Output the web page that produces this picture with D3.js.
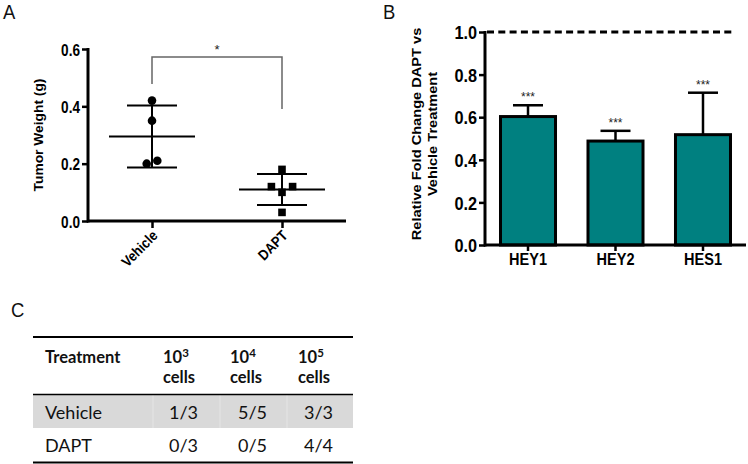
<!DOCTYPE html>
<html>
<head>
<meta charset="utf-8">
<script src="https://cdn.jsdelivr.net/npm/d3@7"></script>
<style>
  html, body { margin: 0; padding: 0; background: #fff; }
  svg { display: block; }
  .ax { font-family: "Liberation Sans", Arial, sans-serif; font-weight: bold; }
  .tbl { font-family: Lato, "Open Sans", sans-serif; }
</style>
</head>
<body>
<svg id="chart" width="748" height="464"></svg>
<script>
// ---------------- Data ----------------
// Panel A: tumor weights (g)
const groupsA = ["Vehicle", "DAPT"];
const vehicleWeights = [0.42, 0.35, 0.20, 0.21];
const vehicleJitter  = [0, 0, -1, 1];
const daptWeights    = [0.18, 0.12, 0.12, 0.10, 0.03];
const daptJitter     = [0, -2, 2, 0, 0];
const meansA = [0.295, 0.110];
const sdsA   = [0.108, 0.054];
const ticksA = [0.0, 0.2, 0.4, 0.6];
const sigLabelA = "*";

// Panel B: relative fold change
const genesB = ["HEY1", "HEY2", "HES1"];
const foldB  = [0.603, 0.488, 0.518];
const errB   = [0.053, 0.048, 0.197];
const sigB   = ["***", "***", "***"];
const ticksB = [0.0, 0.2, 0.4, 0.6, 0.8, 1.0];
const refLineB = 1.0;

// Panel C: table
const tableHeader = ["Treatment", "10|3|cells", "10|4|cells", "10|5|cells"];
const tableRows = [
  ["Vehicle", "1/3", "5/5", "3/3"],
  ["DAPT",    "0/3", "0/5", "4/4"]
];

// ---------------- Drawing ----------------
const svg = d3.select("#chart");
const fmt = d3.format(".1f");

function panelLetter(t, x, y) {
  svg.append("text").attr("x", x).attr("y", y)
    .attr("font-family", "Liberation Sans, Arial, sans-serif")
    .attr("font-size", 20.5).attr("fill", "#111")
    .attr("transform", `translate(${x},0) scale(0.9,1) translate(${-x},0)`)
    .text(t);
}

// ===== Panel A =====
(function () {
  const sq = 0.8;
  const y = d3.scaleLinear().domain([0, 0.6]).range([221, 49]);
  const x = d3.scalePoint().domain(groupsA).range([152, 282]);
  const g = svg.append("g");

  // y axis
  const yAxis = d3.axisLeft(y).tickValues(ticksA).tickFormat(fmt).tickSizeOuter(0).tickSize(6);
  const ya = g.append("g").attr("transform", "translate(88,0)").call(yAxis);
  ya.select(".domain").attr("stroke", "#000").attr("stroke-width", 3)
    .attr("d", `M0,${y(0) + 1.5}V${y(0.6) - 1}`);
  ya.selectAll(".tick line").attr("stroke", "#000").attr("stroke-width", 2.5);
  ya.selectAll(".tick text")
    .attr("class", "ax").attr("font-size", 17).attr("fill", "#000")
    .attr("x", -8 / sq).attr("dy", "0.36em")
    .attr("transform", `scale(${sq},1)`);

  // x axis
  const xa = g.append("g").attr("transform", "translate(0,221)")
    .call(d3.axisBottom(x).tickSize(7).tickSizeOuter(0).tickFormat(""));
  xa.select(".domain").attr("stroke", "#000").attr("stroke-width", 3).attr("d", "M87,0H346");
  xa.selectAll(".tick line").attr("stroke", "#000").attr("stroke-width", 2.5);
  groupsA.forEach(gn => {
    g.append("text").attr("class", "ax").attr("font-size", 14.5)
      .attr("text-anchor", "end").attr("dy", "0.35em")
      .attr("transform", `translate(${x(gn) + 3},${233}) rotate(-45) scale(0.88,1)`)
      .text(gn);
  });

  // axis title
  g.append("text").attr("class", "ax").attr("font-size", 13.8)
    .attr("text-anchor", "middle")
    .attr("transform", `translate(43,135) rotate(-90) scale(1,0.88)`)
    .text("Tumor Weight (g)");

  // error bars (mean ± SD)
  groupsA.forEach((gn, i) => {
    const cx = x(gn), m = meansA[i], s = sdsA[i];
    g.append("line").attr("x1", cx).attr("x2", cx).attr("y1", y(m - s)).attr("y2", y(m + s))
      .attr("stroke", "#000").attr("stroke-width", 2);
    g.append("line").attr("x1", cx - 43).attr("x2", cx + 43).attr("y1", y(m)).attr("y2", y(m))
      .attr("stroke", "#000").attr("stroke-width", 2);
    [m - s, m + s].forEach(v => {
      g.append("line").attr("x1", cx - 25).attr("x2", cx + 25).attr("y1", y(v)).attr("y2", y(v))
        .attr("stroke", "#000").attr("stroke-width", 2);
    });
  });

  // points
  const jUnit = 5.3;
  g.selectAll("circle.pt").data(vehicleWeights).enter().append("circle")
    .attr("cx", (d, i) => x("Vehicle") + vehicleJitter[i] * jUnit)
    .attr("cy", d => y(d)).attr("r", 4.3).attr("fill", "#000");
  g.selectAll("rect.pt").data(daptWeights).enter().append("rect")
    .attr("x", (d, i) => x("DAPT") + daptJitter[i] * jUnit - 3.8)
    .attr("y", d => y(d) - 3.8).attr("width", 7.6).attr("height", 7.6).attr("fill", "#000");

  // significance bracket
  const topY = 57;
  g.append("path")
    .attr("d", `M${x("Vehicle")},84V${topY}H${x("DAPT")}V109`)
    .attr("fill", "none").attr("stroke", "#666").attr("stroke-width", 1.5);
  g.append("text").attr("x", (x("Vehicle") + x("DAPT")) / 2).attr("y", 54)
    .attr("text-anchor", "middle").attr("font-family", "Liberation Sans, Arial, sans-serif")
    .attr("font-size", 13).attr("fill", "#222").text(sigLabelA);
})();

// ===== Panel B =====
(function () {
  const sq = 0.88;
  const y = d3.scaleLinear().domain([0, 1]).range([245, 32]);
  const x = d3.scaleBand().domain(genesB).range([485, 746]).paddingInner(0.337).paddingOuter(0.16);
  const g = svg.append("g");

  // bars
  g.selectAll("rect.bar").data(foldB).enter().append("rect")
    .attr("x", (d, i) => x(genesB[i]) + 1.5)
    .attr("width", x.bandwidth() - 3)
    .attr("y", d => y(d))
    .attr("height", d => y(0) - y(d))
    .attr("fill", "#008080").attr("stroke", "#000").attr("stroke-width", 3);

  // error bars (upward)
  foldB.forEach((v, i) => {
    const cx = x(genesB[i]) + x.bandwidth() / 2;
    g.append("line").attr("x1", cx).attr("x2", cx).attr("y1", y(v)).attr("y2", y(v + errB[i]))
      .attr("stroke", "#000").attr("stroke-width", 2.5);
    g.append("line").attr("x1", cx - 15).attr("x2", cx + 15)
      .attr("y1", y(v + errB[i])).attr("y2", y(v + errB[i]))
      .attr("stroke", "#000").attr("stroke-width", 2.5);
    g.append("text").attr("x", cx).attr("y", y(v + errB[i]) - 4)
      .attr("text-anchor", "middle").attr("font-family", "Liberation Sans, Arial, sans-serif")
      .attr("font-size", 12).attr("fill", "#222").text(sigB[i]);
  });

  // y axis
  const ya = g.append("g").attr("transform", "translate(485,0)")
    .call(d3.axisLeft(y).tickValues(ticksB).tickFormat(fmt).tickSize(6).tickSizeOuter(0));
  ya.select(".domain").attr("stroke", "#000").attr("stroke-width", 3)
    .attr("d", `M0,${y(0) + 1.5}V${y(1) - 1}`);
  ya.selectAll(".tick line").attr("stroke", "#000").attr("stroke-width", 2.5);
  ya.selectAll(".tick text")
    .attr("class", "ax").attr("font-size", 18.5).attr("fill", "#000")
    .attr("x", -8 / sq).attr("dy", "0.36em")
    .attr("transform", `scale(${sq},1)`);

  // x axis
  const xa = g.append("g").attr("transform", `translate(0,${y(0)})`)
    .call(d3.axisBottom(x).tickSize(6).tickSizeOuter(0));
  xa.select(".domain").attr("stroke", "#000").attr("stroke-width", 3).attr("d", "M484,0H746");
  xa.selectAll(".tick line").attr("stroke", "#000").attr("stroke-width", 2.5);
  xa.selectAll(".tick text")
    .attr("class", "ax").attr("font-size", 16.5).attr("fill", "#000")
    .attr("y", 0).attr("dy", 0)
    .attr("transform", `translate(0,20) scale(${sq},1)`);

  // reference dashed line at 1.0
  g.append("line").attr("x1", 487).attr("x2", 734).attr("y1", y(refLineB)).attr("y2", y(refLineB))
    .attr("stroke", "#000").attr("stroke-width", 3).attr("stroke-dasharray", "7,4.3");

  // axis title (two lines)
  [["Relative Fold Change DAPT vs", 421], ["Vehicle Treatment", 437]].forEach(([s, bx]) => {
    g.append("text").attr("class", "ax").attr("font-size", 14.6).attr("text-anchor", "middle")
      .attr("transform", `translate(${bx},134) rotate(-90) scale(1,${sq})`)
      .text(s);
  });
})();

// ===== Panel C (table) =====
(function () {
  const g = svg.append("g").attr("class", "tbl");
  const colX = d3.scaleOrdinal().domain([0, 1, 2, 3]).range([45, 163, 230, 298]);
  const colEnd = d3.scaleOrdinal().domain([1, 2, 3]).range([198, 267, 333]);
  const left = 33, right = 353;

  // gray row
  g.append("rect").attr("x", left).attr("y", 395).attr("width", right - left).attr("height", 33)
    .attr("fill", "#d9d9d9");
  [153, 220, 287].forEach(vx => {
    g.append("line").attr("x1", vx).attr("x2", vx).attr("y1", 395).attr("y2", 428)
      .attr("stroke", "#fff").attr("stroke-opacity", 0.35).attr("stroke-width", 1);
  });

  // rules
  [[337, 2], [394.5, 1.5], [462.5, 2]].forEach(([ly, w]) => {
    g.append("line").attr("x1", left).attr("x2", right).attr("y1", ly).attr("y2", ly)
      .attr("stroke", "#000").attr("stroke-width", w);
  });

  // header
  tableHeader.forEach((h, i) => {
    const cx = colX(i);
    const tx = g.append("text").attr("x", cx).attr("y", 363)
      .attr("font-size", 16.5).attr("font-weight", "bold").attr("fill", "#111");
    if (i === 0) {
      tx.text(h);
    } else {
      const [base, sup, word] = h.split("|");
      tx.append("tspan").text(base);
      tx.append("tspan").attr("font-size", 11.5).attr("dy", -6).text(sup);
      tx.append("tspan").attr("x", cx).attr("dy", 26).text(word);
    }
  });

  // body
  const rowY = d3.scalePoint().domain(tableRows.map(r => r[0])).range([419, 452]);
  tableRows.forEach(r => {
    r.forEach((c, i) => {
      const ax = i === 0 ? colX(0) : colEnd(i);
      g.append("text").attr("x", ax).attr("y", rowY(r[0]))
        .attr("text-anchor", i === 0 ? "start" : "end")
        .attr("font-size", 18).attr("fill", "#111")
        .text(c);
    });
  });
})();

panelLetter("A", 3, 19);
panelLetter("B", 383, 19);
panelLetter("C", 11, 317);
</script>
</body>
</html>
